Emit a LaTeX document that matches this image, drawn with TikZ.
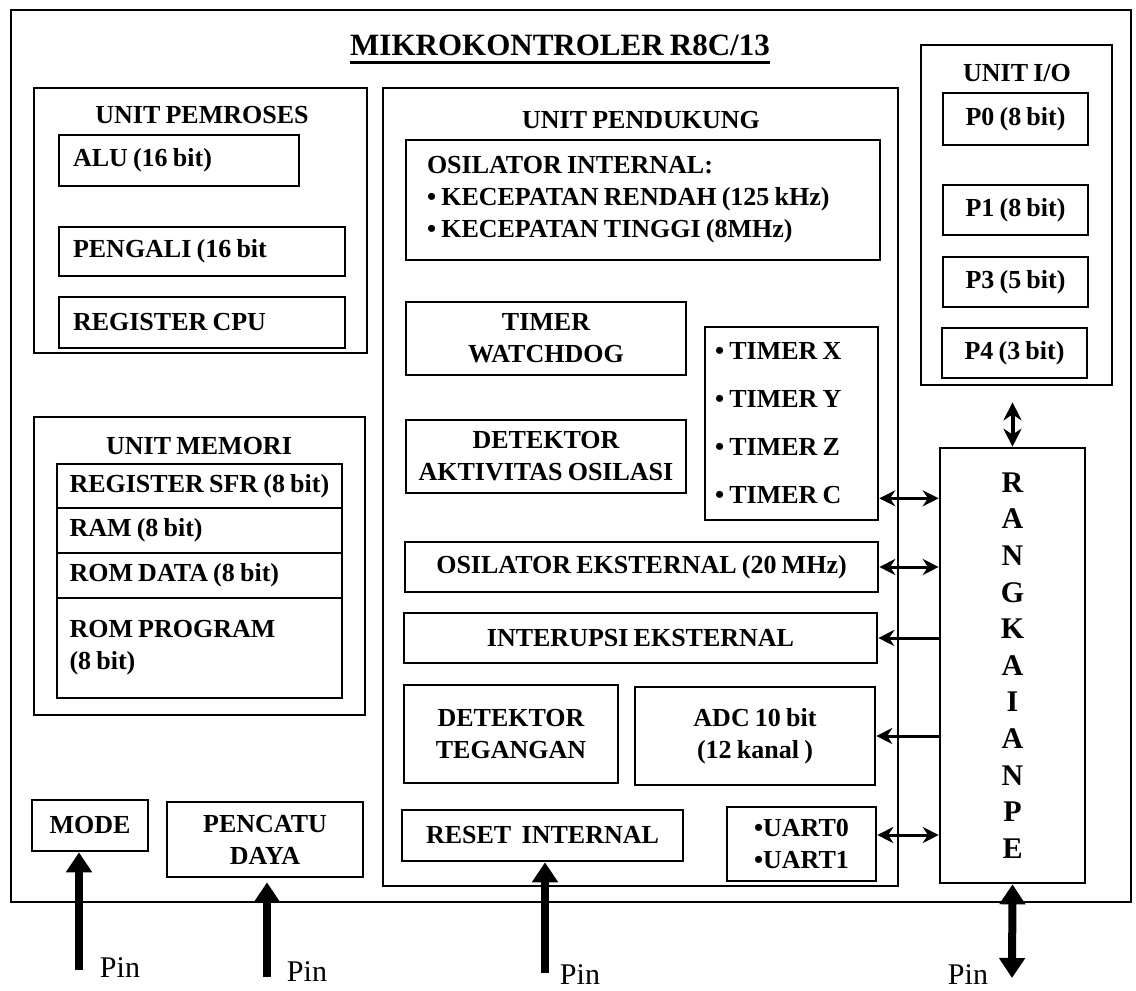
\documentclass[tikz,border=0pt]{standalone}
\usepackage{fontspec}
\setmainfont{Liberation Serif}[WordSpace=0.8]
\usetikzlibrary{arrows.meta,positioning,calc}
\newcommand{\blokfont}{\fontsize{13}{16}\selectfont\bfseries}
\newcommand{\judulfont}{\fontsize{15.5}{18}\selectfont\bfseries}
\newcommand{\rangfont}{\fontsize{15}{18.3}\selectfont\bfseries}
\newcommand{\pinfont}{\fontsize{15}{18}\selectfont}
\tikzset{
  unit/.style={draw=black,line width=1.3pt,inner sep=0pt},
  unitjudul/.style={font=\blokfont,inner sep=0pt},
  blok/.style={draw=black,line width=1.3pt,font=\blokfont,align=center,
               inner sep=4pt},
  blokkiri/.style={blok,align=flush left,inner xsep=7pt},
  biarr/.style={{Stealth[length=8pt,width=8pt]}-{Stealth[length=8pt,width=8pt]},
                line width=1.5pt},
  kiriarr/.style={-{Stealth[length=8pt,width=8pt]},line width=1.5pt},
  pinarr/.style={-{Triangle[length=10pt,width=12.5pt]},line width=4pt},
  pinbiarr/.style={{Triangle[length=10pt,width=12.5pt]}-{Triangle[length=10pt,width=12.5pt]},
                   line width=4pt},
  pinlbl/.style={font=\pinfont,inner sep=0pt}
}
\begin{document}
\begin{tikzpicture}[x=0.5pt,y=-0.5pt]
    \path[use as bounding box] (0,0) rectangle (1136,991);
    \node[unit,minimum width=560pt,minimum height=446pt] (mcu) at (571,456) {};
    \node[font=\judulfont,inner sep=0pt] (judul) at (560,45) {MIKROKONTROLER R8C/13};
    \draw[line width=1.5pt] ([yshift=-3.5pt]judul.base west) -- ([yshift=-3.5pt]judul.base east);

    % unit pemroses
    \node[unit,minimum width=166.5pt,minimum height=132.5pt] (pemroses) at (200.5,220.5) {};
    \node[unitjudul] (jpemroses) at (202,115) {UNIT PEMROSES};
    \node[blokkiri,text width=106pt,minimum height=25.5pt] (alu) at (179,160.5) {ALU (16 bit)};
    \node[blokkiri,text width=129pt,minimum height=24.5pt] (pengali) at (202,251.5) {PENGALI (16 bit};
    \node[blokkiri,text width=129pt,minimum height=25.5pt] (regcpu) at (202,322.5) {REGISTER CPU};

    % unit memori
    \node[unit,minimum width=165.5pt,minimum height=149pt] (memori) at (199.5,566) {};
    \node[unitjudul] (jmemori) at (199,446) {UNIT MEMORI};
    \node[blokkiri,inner xsep=6.25pt,text width=130pt,minimum height=22pt] (sfr) at (199.5,486) {REGISTER SFR (8 bit)};
    \node[blokkiri,inner xsep=6.25pt,text width=130pt,minimum height=22.5pt] (ram) at (199.5,530.5) {RAM (8 bit)};
    \node[blokkiri,inner xsep=6.25pt,text width=130pt,minimum height=22.5pt] (romdata) at (199.5,575.5) {ROM DATA (8 bit)};
    \node[blokkiri,inner xsep=6.25pt,text width=130pt,minimum height=50pt] (romprog) at (199.5,648) {ROM PROGRAM\\(8 bit)};

    \node[blok,minimum width=58pt,minimum height=25.5pt] (mode) at (90,825.5) {MODE};
    \node[blok,minimum width=98pt,minimum height=37.5pt] (pencatu) at (265,839.5) {PENCATU\\DAYA};

    % unit pendukung
    \node[unit,minimum width=257.5pt,minimum height=399pt] (pendukung) at (640.5,487) {};
    \node[unitjudul] (jpendukung) at (641,120) {UNIT PENDUKUNG};
    \node[blokkiri,inner xsep=10.5pt,text width=216pt,minimum height=60pt] (oscint) at (643,200)
      {OSILATOR INTERNAL:\\• KECEPATAN RENDAH (125 kHz)\\• KECEPATAN TINGGI (8MHz)};
    \node[blok,minimum width=140pt,minimum height=36.5pt] (watchdog) at (546,338.5) {TIMER\\WATCHDOG};
    \node[blok,minimum width=140pt,minimum height=36.5pt] (detosc) at (546,456.5) {DETEKTOR\\AKTIVITAS OSILASI};
    \node[blokkiri,inner xsep=5pt,text width=76.5pt,minimum height=96.5pt] (timer) at (791.5,423.5)
      {• TIMER X\\[8pt]• TIMER Y\\[8pt]• TIMER Z\\[8pt]• TIMER C};
    \node[blok,minimum width=236.5pt,minimum height=25pt] (osceks) at (641.5,567) {OSILATOR EKSTERNAL (20 MHz)};
    \node[blok,minimum width=236.5pt,minimum height=25pt] (interupsi) at (640.5,638) {INTERUPSI EKSTERNAL};
    \node[blok,minimum width=107pt,minimum height=49pt] (tegangan) at (511,734) {DETEKTOR\\TEGANGAN};
    \node[blok,minimum width=120pt,minimum height=49pt] (adc) at (755,736) {ADC 10 bit\\(12 kanal )};
    \node[blok,minimum width=140.5pt,minimum height=25.5pt] (reset) at (542.5,835.5) {RESET\ \ INTERNAL};
    \node[blok,minimum width=74.5pt,minimum height=37pt] (uart) at (801.5,844) {•UART0\\•UART1};

    % unit I/O
    \node[unit,minimum width=95.5pt,minimum height=170pt] (io) at (1016.5,215) {};
    \node[unitjudul] (jio) at (1017,73) {UNIT I/O};
    \node[blok,minimum width=72.5pt,minimum height=26pt] (p0) at (1015.5,119) {P0 (8 bit)};
    \node[blok,minimum width=72.5pt,minimum height=25pt] (p1) at (1015.5,210) {P1 (8 bit)};
    \node[blok,minimum width=72.5pt,minimum height=25pt] (p3) at (1015.5,282) {P3 (5 bit)};
    \node[blok,minimum width=72.5pt,minimum height=25pt] (p4) at (1014.5,353) {P4 (3 bit)};

    \node[blok,font=\rangfont,minimum width=72.5pt,minimum height=217.5pt] (rangkaian) at (1012.5,665.5)
      {R\\A\\N\\G\\K\\A\\I\\A\\N\\P\\E};

    \draw[line width=2pt,{Stealth[length=9pt,width=9pt]}-{Stealth[length=9pt,width=9pt]},shorten <=8pt]
      (io.south -| rangkaian.north) -- (rangkaian.north);
    \draw[biarr] ([yshift=11.5pt]timer.south east) coordinate (ttimer) -- (ttimer -| rangkaian.west);
    \draw[biarr] (osceks.east) -- (osceks.east -| rangkaian.west);
    \draw[kiriarr] (interupsi.east -| rangkaian.west) -- (interupsi.east);
    \draw[kiriarr] (adc.east -| rangkaian.west) -- (adc.east);
    \draw[biarr] ([yshift=4.5pt]uart.east) coordinate (tuart) -- (tuart -| rangkaian.west);

    % pin
    \coordinate (pinmode) at (79,970);
    \coordinate (pindaya) at (267,977);
    \coordinate (pinreset) at (545,973);
    \coordinate (pinio) at (1012,978);
    \draw[pinarr] (pinmode) -- (pinmode |- mode.south);
    \draw[pinarr] (pindaya) -- ([yshift=-2pt]pindaya |- pencatu.south);
    \draw[pinarr] (pinreset) -- (pinreset |- reset.south);
    \draw[pinbiarr] (rangkaian.south) -- (pinio);
    \node[pinlbl] (lblmode) at (120,968) {Pin};
    \node[pinlbl] (lbldaya) at (307,972) {Pin};
    \node[pinlbl] (lblreset) at (580,975) {Pin};
    \node[pinlbl] (lblio) at (968,975) {Pin};
\end{tikzpicture}
\end{document}
